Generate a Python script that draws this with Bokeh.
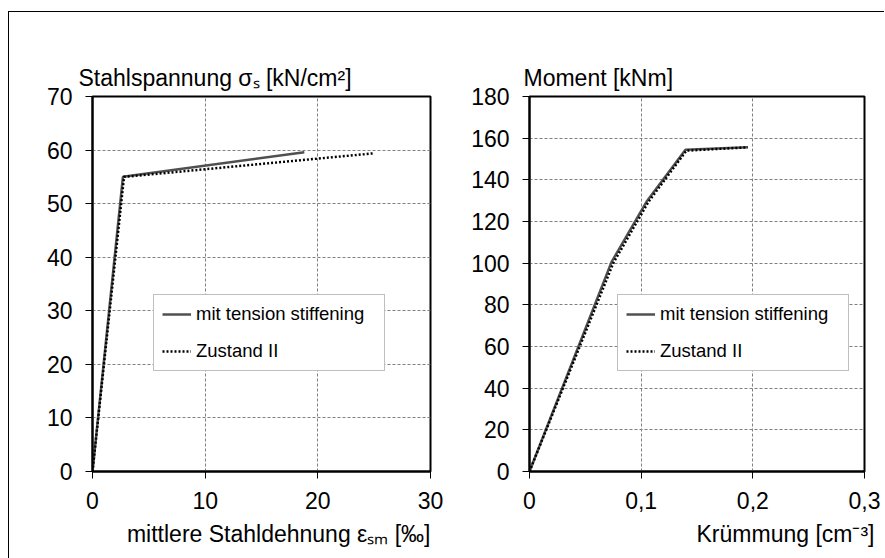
from bokeh.plotting import figure
from bokeh.models import (Legend, LegendItem, FixedTicker, Title,
                          CustomJSTickFormatter, Range1d)
from bokeh.layouts import row
from bokeh.embed import file_html
from bokeh.resources import INLINE

# ---------------- data ----------------
# left chart: steel stress vs mean steel strain
strain_ts = [0, 2.7, 18.8]          # mit tension stiffening [‰]
stress_ts = [0, 55.0, 59.6]         # [kN/cm²]
strain_z2 = [0, 2.8, 25.0]          # Zustand II [‰]
stress_z2 = [0, 55.0, 59.4]

# right chart: moment vs curvature
curv_ts = [0, 0.0734, 0.1054, 0.1397, 0.1955]
moment_ts = [0, 100.5, 130.0, 154.4, 155.6]
curv_z2 = [0, 0.0750, 0.1066, 0.1405, 0.1955]
moment_z2 = [0, 100.0, 129.5, 154.0, 155.6]

left_xticks = [0, 10, 20, 30]
left_yticks = [0, 10, 20, 30, 40, 50, 60, 70]
right_xticks = [0, 0.1, 0.2, 0.3]
right_yticks = [0, 20, 40, 60, 80, 100, 120, 140, 160, 180]

series_labels = ["mit tension stiffening", "Zustand II"]
left_title = "Stahlspannung σₛ [kN/cm²]"
left_xlabel = "mittlere Stahldehnung εₛₘ [‰]"
right_title = "Moment [kNm]"
right_xlabel = "Krümmung [cm⁻³]"

FONT = "Liberation Sans"
TICK_SIZE = "23px"
TITLE_SIZE = "23px"


def make_fig(xr, yr, xt, yt, w, h, bl, bt, br, bb, comma=False):
    p = figure(width=w, height=h, x_range=Range1d(*xr), y_range=Range1d(*yr),
               output_backend="svg", toolbar_location=None,
               min_border_left=bl, min_border_top=bt,
               min_border_right=br, min_border_bottom=bb,
               background_fill_color="white", border_fill_color="white")
    p.outline_line_color = "black"
    p.outline_line_width = 2
    p.xaxis.ticker = FixedTicker(ticks=xt)
    p.yaxis.ticker = FixedTicker(ticks=yt)
    if comma:
        p.xaxis.formatter = CustomJSTickFormatter(
            code="return tick === 0 ? '0' : tick.toFixed(1).replace('.', ',');")
    for ax in (p.xaxis[0], p.yaxis[0]):
        ax.axis_line_color = "black"
        ax.axis_line_width = 2
        ax.major_tick_out = 7
        ax.major_tick_in = 0
        ax.minor_tick_out = 0
        ax.minor_tick_in = 0
        ax.major_tick_line_color = "black"
        ax.major_tick_line_width = 1
        ax.major_label_text_font = FONT
        ax.major_label_text_font_size = TICK_SIZE
        ax.major_label_text_color = "black"
    p.xaxis.major_label_standoff = 13
    p.yaxis.major_label_standoff = 13
    for g in (p.xgrid[0], p.ygrid[0]):
        g.grid_line_color = "#7f7f7f"
        g.grid_line_dash = "3 2"
        g.grid_line_width = 1
    return p


def add_legend(p, r1, r2, loc):
    leg = Legend(items=[LegendItem(label=series_labels[0], renderers=[r1]),
                        LegendItem(label=series_labels[1], renderers=[r2])],
                 location=loc, margin=0, padding=8, spacing=15,
                 glyph_width=29, glyph_height=22, label_height=22,
                 label_width=180, label_standoff=5,
                 border_line_color="#808080", border_line_width=1,
                 background_fill_color="white", background_fill_alpha=1,
                 label_text_font=FONT, label_text_font_size="18.5px",
                 label_text_color="black")
    p.add_layout(leg)


def add_titles(p, top_text, top_offset, bottom_text, bottom_offset):
    p.add_layout(Title(text=top_text, align="left", offset=top_offset,
                       standoff=12, text_font=FONT, text_font_size=TITLE_SIZE,
                       text_font_style="normal", text_color="black"), "above")
    p.add_layout(Title(text=bottom_text, align="right", offset=bottom_offset,
                       standoff=15, text_font=FONT, text_font_size=TITLE_SIZE,
                       text_font_style="normal", text_color="black"), "below")


# ---------------- left figure ----------------
pl = make_fig((0, 30), (0, 70), left_xticks, left_yticks,
              434, 546, 83, 83, 13, 87)
rl1 = pl.line(strain_ts, stress_ts, line_color="#505050", line_width=2.5)
rl2 = pl.line(strain_z2, stress_z2, line_color="black", line_width=2.5,
              line_dash="2 2")
add_legend(pl, rl1, rl2, (61, 100))
add_titles(pl, left_title, -14, left_xlabel, 0)

# ---------------- right figure ----------------
pr = make_fig((0, 0.3), (0, 180), right_xticks, right_yticks,
              441, 546, 86, 84, 20, 87, comma=True)
rr1 = pr.line(curv_ts, moment_ts, line_color="#505050", line_width=2.5)
rr2 = pr.line(curv_z2, moment_z2, line_color="black", line_width=2.5,
              line_dash="2 2")
add_legend(pr, rr1, rr2, (88, 100))
add_titles(pr, right_title, -6, right_xlabel, -10)

layout = row(pl, pr, styles={"border-top": "1px solid black",
                             "border-left": "1px solid black",
                             "margin-left": "8px", "margin-top": "11px"})

open("out.html", "w").write(file_html(layout, INLINE))
